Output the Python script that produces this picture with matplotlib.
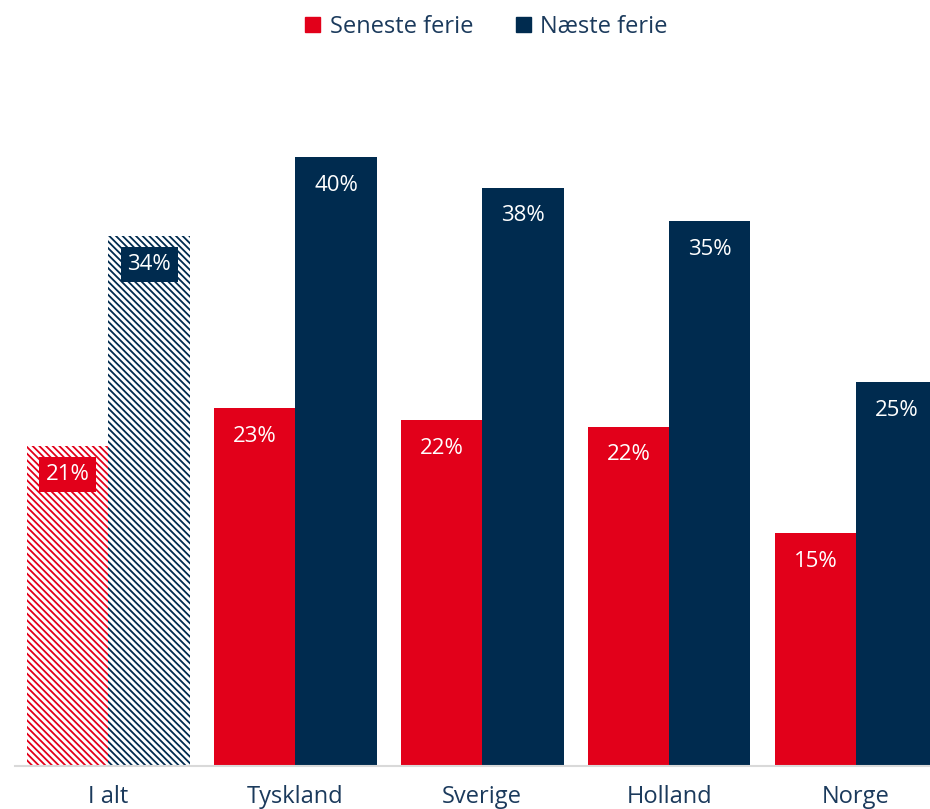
import matplotlib
matplotlib.use("Agg")
import matplotlib.pyplot as plt
from matplotlib.patches import Patch
import numpy as np

plt.rcParams["font.family"] = ["Open Sans", "DejaVu Sans"]
plt.rcParams["hatch.linewidth"] = 1.3

# Data
categories = ["I alt", "Tyskland", "Sverige", "Holland", "Norge"]
seneste = [21.0, 23.5, 22.7, 22.3, 15.3]
naeste = [34.8, 40.0, 38.0, 35.8, 25.2]
seneste_labels = ["21%", "23%", "22%", "22%", "15%"]
naeste_labels = ["34%", "40%", "38%", "35%", "25%"]

RED = "#E2001A"
NAVY = "#002B4F"
TEXT = "#1B3A5C"

fig = plt.figure(figsize=(9.3, 8.09), dpi=100)
ax = fig.add_axes([0.0161, 0.0532, 0.9839, 0.873])

x = np.arange(len(categories))
w = 0.435

for i in range(len(categories)):
    total = i == 0
    for vals, labels, color, off in ((seneste, seneste_labels, RED, -w / 2),
                                     (naeste, naeste_labels, NAVY, w / 2)):
        if total:
            ax.bar(x[i] + off, vals[i], w, facecolor="white", edgecolor=color,
                   hatch="\\\\\\\\\\", linewidth=0)
            ax.text(x[i] + off, vals[i] - 1.85, labels[i], ha="center", va="center",
                    color="white", fontsize=16,
                    bbox=dict(boxstyle="square,pad=0.3", fc=color, ec="none"))
        else:
            ax.bar(x[i] + off, vals[i], w, color=color, linewidth=0)
            ax.text(x[i] + off, vals[i] - 1.85, labels[i], ha="center", va="center",
                    color="white", fontsize=16)

ax.set_xlim(-0.5, 4.396)
ax.set_ylim(0, 46.4)
ax.set_xticks(x)
ax.set_xticklabels(categories, fontsize=17, color=TEXT)
ax.tick_params(axis="x", length=0, pad=14)
ax.set_yticks([])
for s in ("top", "right", "left"):
    ax.spines[s].set_visible(False)
ax.spines["bottom"].set_color("#D9D9D9")
ax.spines["bottom"].set_linewidth(1.5)

handles = [Patch(color=RED, label="Seneste ferie"), Patch(color=NAVY, label="Næste ferie")]
leg = fig.legend(handles=handles, loc="upper center", bbox_to_anchor=(0.523, 1.008),
                 ncol=2, frameon=False, fontsize=17, handlelength=0.65, handleheight=0.65,
                 handletextpad=0.4, columnspacing=1.8)
for t in leg.get_texts():
    t.set_color(TEXT)

fig.savefig("out.png", dpi=100)
